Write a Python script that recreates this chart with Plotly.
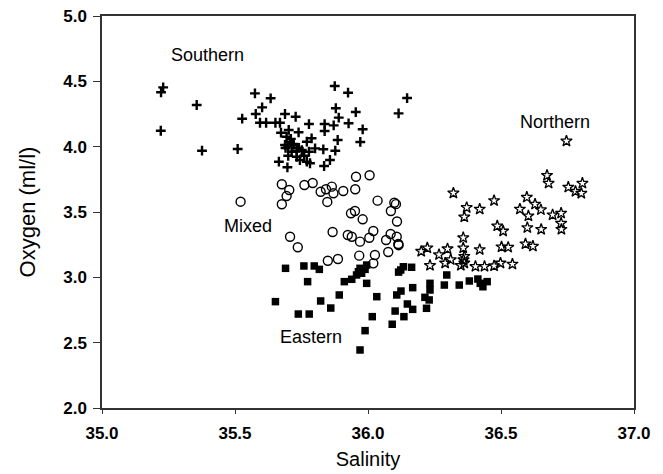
import plotly.graph_objects as go

# Southern water mass (plus markers)
southern_sal = [35.230, 35.222, 35.356, 35.221, 35.376, 35.510, 35.575, 35.634, 35.602, 35.578,
                35.527, 35.594, 35.617, 35.652, 35.669, 35.688, 35.728, 35.875, 35.925, 35.879,
                35.954, 35.890, 35.927, 35.837, 35.871, 35.980, 35.837, 35.778, 35.739, 35.673,
                35.702, 35.886, 35.971, 35.788, 35.770, 35.801, 35.832, 35.877, 35.751, 35.778,
                35.732, 35.694, 35.707, 35.700, 35.719, 35.688, 35.713, 35.732, 35.744, 35.770,
                35.782, 35.665, 35.697, 35.857, 35.835, 36.115, 36.147,
                35.710, 35.720, 35.690, 35.740, 35.700, 35.760]
southern_oxy = [4.454, 4.416, 4.319, 4.122, 3.969, 3.982, 4.408, 4.370, 4.301, 4.250,
                4.214, 4.183, 4.183, 4.183, 4.183, 4.250, 4.229, 4.464, 4.413, 4.294,
                4.265, 4.222, 4.179, 4.173, 4.163, 4.133, 4.120, 4.173, 4.110, 4.107,
                4.128, 4.051, 4.036, 4.064, 4.038, 3.987, 3.980, 3.969, 3.974, 3.961,
                3.967, 4.076, 4.038, 4.000, 4.013, 4.013, 3.961, 3.923, 3.898, 3.885,
                3.873, 3.885, 3.842, 3.898, 3.852, 4.255, 4.372,
                4.060, 4.020, 3.990, 3.990, 3.930, 3.930]

# Mixed water (open circles)
mixed_sal = [35.521, 35.676, 35.704, 35.694, 35.676, 35.761, 35.792, 35.822, 35.842, 35.864,
             35.870, 35.907, 35.847, 35.952, 35.955, 36.006, 36.036, 36.099, 36.086, 35.936,
             35.951, 35.980, 35.867, 35.924, 35.939, 35.970, 36.020, 36.005, 36.068, 36.085,
             36.108, 35.707, 35.736, 36.076, 35.967, 36.026, 35.849, 35.887, 36.020, 36.114,
             36.109, 36.115, 36.105]
mixed_oxy = [3.579, 3.712, 3.668, 3.622, 3.559, 3.707, 3.722, 3.655, 3.674, 3.694,
             3.643, 3.661, 3.577, 3.674, 3.770, 3.781, 3.587, 3.571, 3.508, 3.490,
             3.508, 3.444, 3.347, 3.324, 3.311, 3.273, 3.355, 3.303, 3.286, 3.332,
             3.311, 3.311, 3.230, 3.194, 3.166, 3.171, 3.127, 3.140, 3.107, 3.255,
             3.427, 3.246, 3.560]

# Eastern water (filled squares)
eastern_sal = [35.690, 35.759, 35.798, 35.817, 35.773, 35.652, 35.738, 35.779, 35.822, 35.860,
               35.892, 35.911, 35.939, 35.964, 35.970, 35.989, 35.976, 35.995, 35.995, 36.033,
               36.016, 35.989, 35.970, 36.108, 36.124, 36.168, 36.102, 36.091, 36.135, 36.148,
               36.168, 36.123, 36.133, 36.164, 36.220, 36.230, 36.214, 36.233, 36.233, 36.287,
               36.296, 35.957, 36.115, 36.343, 36.381, 36.413, 36.432, 36.448, 36.422]
eastern_oxy = [3.069, 3.087, 3.087, 3.061, 2.967, 2.814, 2.719, 2.719, 2.819, 2.765,
               2.865, 2.967, 2.985, 3.043, 3.069, 3.061, 3.031, 3.094, 2.954, 2.852,
               2.699, 2.592, 2.444, 2.865, 2.895, 2.921, 2.742, 2.641, 2.699, 2.796,
               2.755, 3.056, 3.081, 3.077, 2.763, 2.827, 2.847, 2.903, 2.954, 2.941,
               3.018, 3.018, 3.040, 2.941, 2.972, 2.987, 2.928, 2.967, 2.954]

# Northern water (open stars)
northern_sal = [36.746, 36.673, 36.679, 36.753, 36.806, 36.780, 36.802, 36.321, 36.474, 36.597,
                36.628, 36.650, 36.571, 36.603, 36.694, 36.726, 36.726, 36.727, 36.651, 36.599,
                36.420, 36.371, 36.362, 36.486, 36.508, 36.592, 36.620, 36.502, 36.527, 36.420,
                36.358, 36.358, 36.362, 36.359, 36.299, 36.267, 36.200, 36.223, 36.311, 36.290,
                36.233, 36.349, 36.362, 36.404, 36.438, 36.474, 36.498, 36.543]
northern_oxy = [4.043, 3.780, 3.720, 3.690, 3.720, 3.658, 3.643, 3.645, 3.587, 3.613,
                3.560, 3.517, 3.522, 3.470, 3.478, 3.491, 3.414, 3.367, 3.367, 3.380,
                3.522, 3.534, 3.462, 3.393, 3.354, 3.256, 3.238, 3.233, 3.230, 3.212,
                3.303, 3.225, 3.160, 3.135, 3.218, 3.173, 3.199, 3.225, 3.135, 3.109,
                3.091, 3.091, 3.109, 3.083, 3.083, 3.088, 3.109, 3.101]

label_text = ["Southern", "Northern", "Mixed", "Eastern"]
label_sal = [35.398, 36.703, 35.549, 35.786]
label_oxy = [4.701, 4.189, 3.393, 2.543]

x_ticks = [35.0, 35.5, 36.0, 36.5, 37.0]
y_ticks = [2.0, 2.5, 3.0, 3.5, 4.0, 4.5, 5.0]

fig = go.Figure()
fig.add_trace(go.Scatter(x=southern_sal, y=southern_oxy, mode="markers", name="Southern",
                         marker=dict(symbol="cross-thin-open", size=7, color="black",
                                     line=dict(width=2.4, color="black"))))
fig.add_trace(go.Scatter(x=mixed_sal, y=mixed_oxy, mode="markers", name="Mixed",
                         marker=dict(symbol="circle-open", size=9, color="black",
                                     line=dict(width=1.4, color="black"))))
fig.add_trace(go.Scatter(x=eastern_sal, y=eastern_oxy, mode="markers", name="Eastern",
                         marker=dict(symbol="square", size=7.5, color="black",
                                     line=dict(width=0))))
fig.add_trace(go.Scatter(x=northern_sal, y=northern_oxy, mode="markers", name="Northern",
                         marker=dict(symbol="star-open", size=8.5, color="black",
                                     line=dict(width=1.3, color="black"))))

for t, sx, oy in zip(label_text, label_sal, label_oxy):
    fig.add_annotation(x=sx, y=oy, text=t, showarrow=False,
                       font=dict(family="Arial", size=18, color="black"))

axis_common = dict(showgrid=False, zeroline=False, showline=True, mirror=True,
                   linecolor="#333333", linewidth=1.5, ticks="outside",
                   tickcolor="#333333", automargin=False,
                   tickfont=dict(family="Arial", size=17, color="black", weight="bold"))

fig.update_xaxes(range=[35.0, 37.0], tickvals=x_ticks, ticktext=[f"{v:.1f}" for v in x_ticks],
                 ticklen=4, ticklabelstandoff=5,
                 title=dict(text="Salinity", font=dict(family="Arial", size=20, color="black"),
                            standoff=10),
                 **axis_common)
fig.update_yaxes(range=[2.0, 5.0], tickvals=y_ticks, ticktext=[f"{v:.1f}" for v in y_ticks],
                 ticklen=7, ticklabelstandoff=3,
                 title=dict(text="Oxygen (ml/l)", font=dict(family="Arial", size=22, color="black"),
                            standoff=22),
                 **axis_common)

fig.update_layout(width=663, height=474, showlegend=False,
                  plot_bgcolor="white", paper_bgcolor="white",
                  margin=dict(l=102, r=29, t=16, b=66))

fig.write_html("out.html")
